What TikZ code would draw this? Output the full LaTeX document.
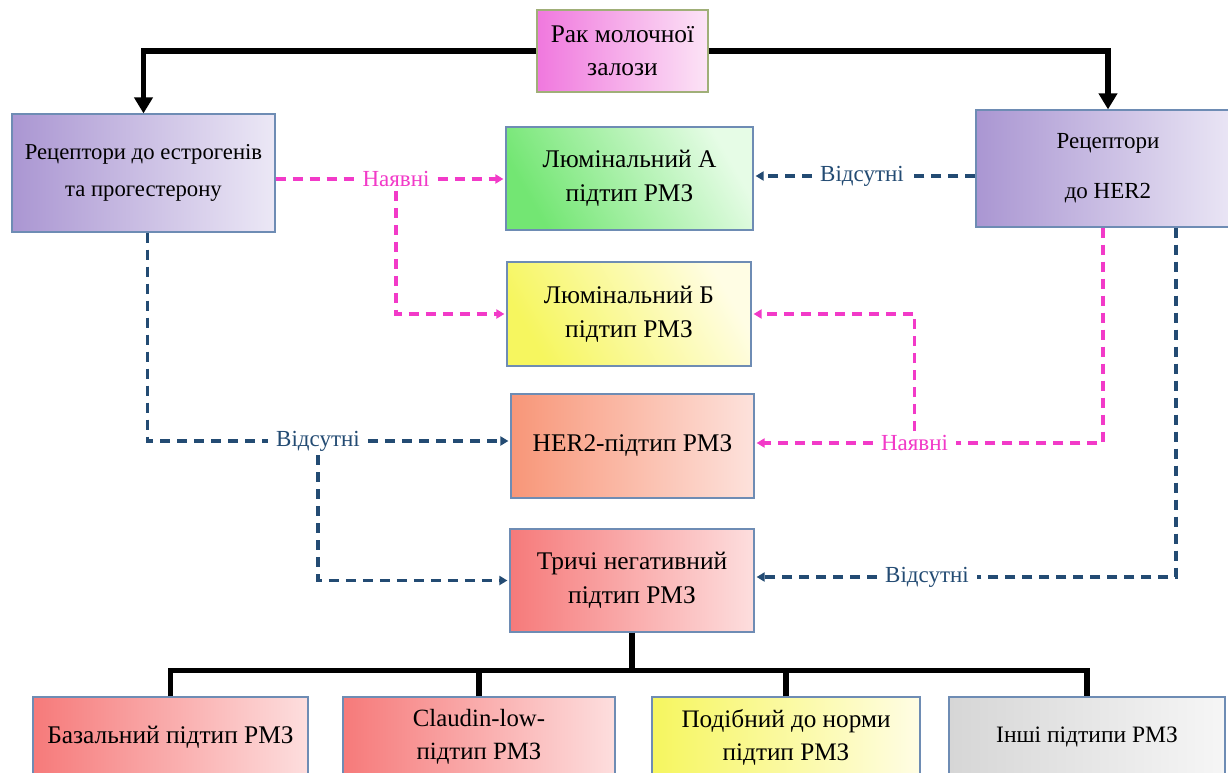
\documentclass[tikz,border=0pt]{standalone}
\usepackage{fontspec}
\setmainfont{Liberation Serif}
\usetikzlibrary{arrows.meta}
\definecolor{pinkc}{RGB}{242,58,200}
\definecolor{bluec}{RGB}{35,75,115}
\definecolor{boxborder}{RGB}{110,140,180}
\definecolor{topborder}{RGB}{160,175,120}
\definecolor{topL}{RGB}{240,120,222}
\definecolor{topR}{RGB}{252,228,246}
\definecolor{purL}{RGB}{170,150,210}
\definecolor{purR}{RGB}{236,232,246}
\definecolor{grnL}{RGB}{115,230,115}
\definecolor{grnR}{RGB}{230,252,230}
\definecolor{yelL}{RGB}{246,246,95}
\definecolor{yelR}{RGB}{255,253,228}
\definecolor{herL}{RGB}{248,150,120}
\definecolor{herR}{RGB}{253,226,220}
\definecolor{redL}{RGB}{246,122,122}
\definecolor{redR}{RGB}{253,222,222}
\definecolor{gryL}{RGB}{214,214,214}
\definecolor{gryR}{RGB}{246,246,246}
\newcommand{\boxfnt}{\fontsize{25.4}{34}\selectfont}
\tikzset{
  box/.style={draw=boxborder, line width=1.2pt, align=center, inner sep=0pt, font=\boxfnt},
  blk/.style={line width=5.5pt, draw=black},
  blkarrow/.style={blk, -{Triangle[width=18pt,length=16pt]}},
  pinkd/.style={draw=pinkc, line width=3.2pt, dash pattern=on 10pt off 7pt},
  blued/.style={draw=bluec, line width=3.2pt, dash pattern=on 10pt off 7pt},
  tipend/.style={-{Triangle[width=9pt,length=8pt]}, shorten >=2pt},
  lab/.style={inner xsep=8pt, inner ysep=4pt, font=\fontsize{23}{27}\selectfont},
}
\begin{document}
\begin{tikzpicture}[x=1pt,y=-1pt]
\useasboundingbox (0,0) rectangle (1228,773);
\clip (0,0) rectangle (1228,773);
\fill[white] (0,0) rectangle (1228,773);

% boxes
\node[box, draw=topborder, minimum width=171pt, minimum height=82pt, left color=topL, right color=topR, font=\fontsize{25.4}{33}\selectfont] (top) at (622.5,51) {Рак молочної\\залози};
\node[box, minimum width=263pt, minimum height=118pt, left color=purL, right color=purR, font=\fontsize{22.7}{37}\selectfont] (left) at (143.5,173) {Рецептори до естрогенів\\та прогестерону};
\node[box, minimum width=264pt, minimum height=117pt, left color=purL, right color=purR, font=\fontsize{23}{50}\selectfont] (right) at (1108,168.5) {Рецептори\\до HER2};
\node[box, minimum width=247pt, minimum height=103pt, bottom color=grnL, top color=grnR, shading angle=-60] (lumA) at (629.5,178.5) {Люмінальний А\\підтип РМЗ};
\node[box, minimum width=244pt, minimum height=104pt, bottom color=yelL, top color=yelR, shading angle=-60] (lumB) at (629,314) {Люмінальний Б\\підтип РМЗ};
\node[box, minimum width=243pt, minimum height=104pt, left color=herL, right color=herR] (her2) at (632.5,446) {HER2-підтип РМЗ};
\node[box, minimum width=244pt, minimum height=103pt, left color=redL, right color=redR] (tneg) at (632,580.5) {Тричі негативний\\підтип РМЗ};
\node[box, minimum width=275pt, minimum height=80pt, left color=redL, right color=redR] (basal) at (170.5,737) {Базальний підтип РМЗ};
\node[box, minimum width=272pt, minimum height=80pt, left color=redL, right color=redR, font=\fontsize{24.8}{33}\selectfont] (claudin) at (479,737) {Claudin-low-\\підтип РМЗ};
\node[box, minimum width=268pt, minimum height=80pt, left color=yelL, right color=yelR, font=\fontsize{25.2}{33}\selectfont] (podib) at (786,737) {Подібний до норми\\підтип РМЗ};
\node[box, minimum width=276pt, minimum height=80pt, left color=gryL, right color=gryR, font=\fontsize{23.5}{33}\selectfont] (inshi) at (1087,737) {Інші підтипи РМЗ};

% labels
\node[lab, text=pinkc] (lab1) at (396,179) {Наявні};
\node[lab, text=bluec] (lab2) at (862,176) {Відсутні};
\node[lab, text=bluec] (lab3) at (318,441) {Відсутні};
\node[lab, text=pinkc] (lab4) at (914.5,443) {Наявні};
\node[lab, text=bluec] (lab5) at (927,577) {Відсутні};

% black connectors
\draw[blkarrow] (top.west) -| (left.north);
\draw[blkarrow] (top.east) -| (right.north);
\draw[blk] (tneg.south) -- ++(0,38) coordinate (bus);
\draw[blk] (basal.north) |- (bus) -| (inshi.north);
\draw[blk] (claudin.north) -- (claudin.north |- bus);
\draw[blk] (podib.north) -- (podib.north |- bus);

% dashed connectors
\draw[pinkd] (left.east |- lab1) -- (lab1.west);
\draw[pinkd, tipend] (lab1.east) -- (lumA.west |- lab1);
\draw[pinkd, tipend] (lab1.south) |- (lumB.west);

\draw[blued] (right.west |- lab2) -- (lab2.east);
\draw[blued, tipend] (lab2.west) -- (lumA.east |- lab2);

\draw[blued] ([xshift=4pt]left.south) |- (lab3.west);
\draw[blued, tipend] (lab3.east) -- (her2.west |- lab3);
\draw[blued, tipend] (lab3.south) |- (tneg.west);

\draw[pinkd] ([xshift=-5pt]right.south) |- (lab4.east);
\draw[pinkd, tipend] (lab4.west) -- (her2.east |- lab4);
\draw[pinkd, tipend] (lab4.north) |- (lumB.east);

\draw[blued] ([xshift=68pt]right.south) |- (lab5.east);
\draw[blued, tipend] (lab5.west) -- (tneg.east |- lab5);
\end{tikzpicture}
\end{document}
